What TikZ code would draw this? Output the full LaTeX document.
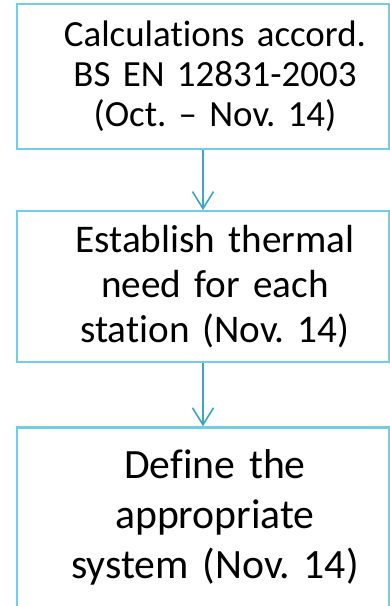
\documentclass[tikz,border=0pt]{standalone}
\usepackage{fontspec}
\setmainfont{Carlito}[Ligatures=TeX,RawFeature={-liga;-dlig;-clig;-calt}]
\usetikzlibrary{arrows.meta,positioning}
\definecolor{stepedge}{HTML}{72CEE6}
\definecolor{steparrow}{HTML}{3BA6C6}
\frenchspacing

\begin{document}
\begin{tikzpicture}[
  x=1pt,y=1pt,
  node distance=60pt,
  stepbox/.style={draw=stepedge,line width=2.2pt,fill=white,
    minimum width=372pt,text width=372pt,inner xsep=0pt,inner ysep=0pt,
    align=center,execute at begin node={\advance\leftskip by 24pt}},
  flow/.style={-{Straight Barb[length=17pt,width=21pt,line width=1.6pt]},
    line width=1.6pt,draw=steparrow}
]
  \useasboundingbox (0,0) rectangle (390,-606);

  % three steps, top to bottom
  \node[stepbox,minimum height=145pt,
    font=\fontsize{36.9}{40}\selectfont] (calc) at (203,-76.5)
    {Calculations accord.\\BS EN 12831-2003\\(Oct. -- Nov. 14)};
  \node[stepbox,minimum height=151pt,below=60pt of calc,
    font=\fontsize{39.2}{45}\selectfont] (need)
    {Establish thermal\\need for each\\station (Nov. 14)};
  \node[stepbox,minimum height=180pt,below=63pt of need,
    font=\fontsize{41.7}{50}\selectfont] (system)
    {Define the\\appropriate\\system (Nov. 14)};

  \draw[flow] (calc) -- (need);
  \draw[flow] (need) -- (system);
\end{tikzpicture}
\end{document}
